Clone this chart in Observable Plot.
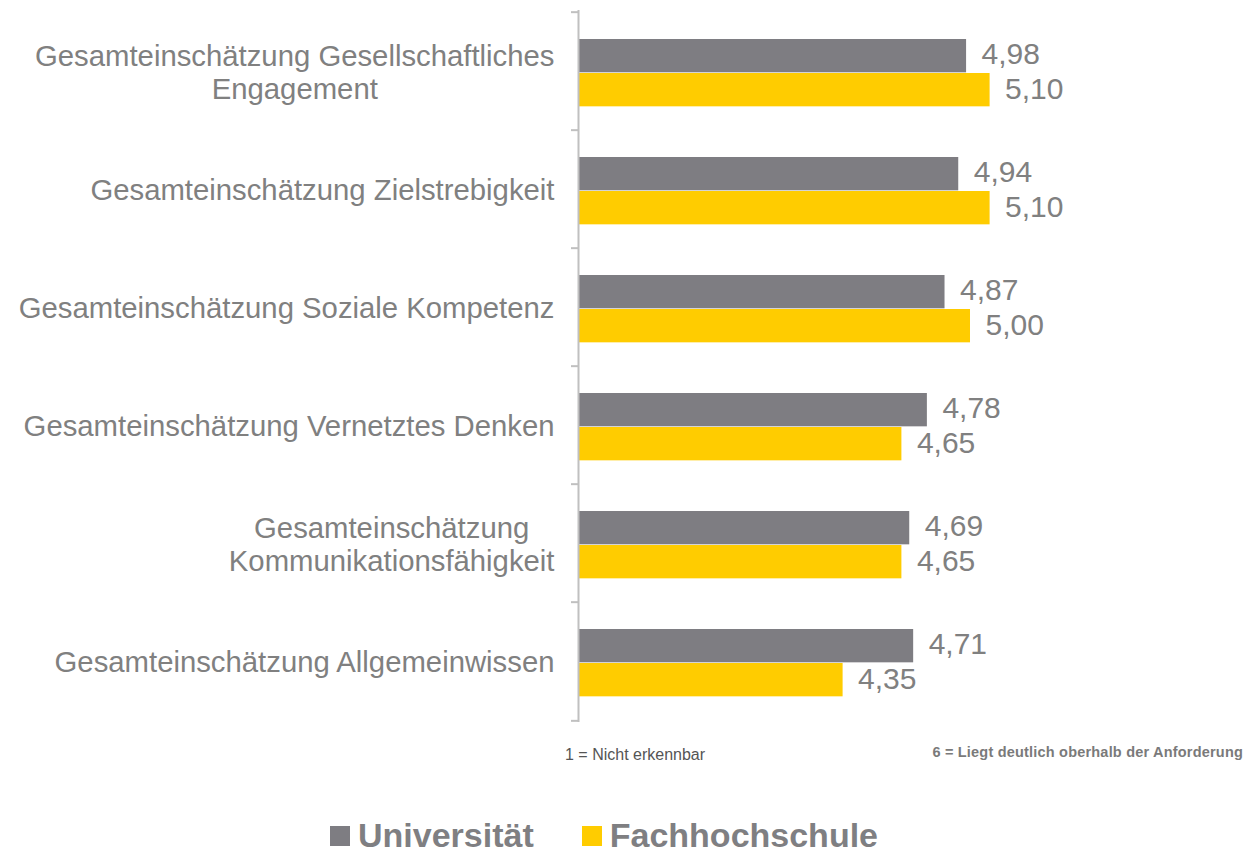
<!DOCTYPE html>
<html><head><meta charset="utf-8">
<script src="https://cdn.jsdelivr.net/npm/d3@7"></script>
<script src="https://cdn.jsdelivr.net/npm/@observablehq/plot@0.6"></script>
<style>
  html,body{margin:0;padding:0;background:#fff;}
  body{font-family:"Liberation Sans",Arial,Helvetica,sans-serif;}
  #chart{position:relative;width:1245px;height:855px;overflow:hidden;}
  #chart svg{position:absolute;left:0;top:0;}
  .note{position:absolute;white-space:nowrap;}
  .note.left{left:565px;top:746px;font-size:16px;color:#555;}
  .note.right{right:2px;top:744px;font-size:14.5px;font-weight:bold;color:#7a7a7a;letter-spacing:0.2px;}
  .legend{position:absolute;left:330px;top:816px;display:flex;align-items:center;font-weight:bold;font-size:34px;color:#7f7f82;white-space:nowrap;}
  .legend .item{display:flex;align-items:center;}
  .legend .sw{width:20px;height:20px;margin-right:8px;display:inline-block;}
</style></head>
<body>
<div id="chart"></div>
<script>
const categories = [
  "Gesamteinschätzung Gesellschaftliches\nEngagement",
  "Gesamteinschätzung Zielstrebigkeit",
  "Gesamteinschätzung Soziale Kompetenz",
  "Gesamteinschätzung Vernetztes Denken",
  "Gesamteinschätzung\nKommunikationsfähigkeit",
  "Gesamteinschätzung Allgemeinwissen"
];
const seriesNames = ["Universität", "Fachhochschule"];
const universitaet = [4.98, 4.94, 4.87, 4.78, 4.69, 4.71];
const fachhochschule = [5.10, 5.10, 5.00, 4.65, 4.65, 4.35];
const seriesColors = ["#7e7d82", "#ffcc00"];
const xDomain = [3, 6];
const scaleNotes = ["1 = Nicht erkennbar", "6 = Liegt deutlich oberhalb der Anforderung"];

const uniData = categories.map((c, i) => ({category: c, value: universitaet[i]}));
const fhData = categories.map((c, i) => ({category: c, value: fachhochschule[i]}));
const fmt = v => d3.format(".2f")(v).replace(".", ",");

const W = 1245, H = 740, mTop = 10, mBottom = 18;
const bw = (H - mTop - mBottom) / categories.length;
const barH = 34, topGap = 27;
const textGray = "#808080";

const plot = Plot.plot({
  width: W, height: H,
  marginLeft: 578, marginRight: 79, marginTop: mTop, marginBottom: mBottom,
  style: {fontFamily: "'Liberation Sans', Arial, Helvetica, sans-serif", background: "#fff"},
  x: {domain: xDomain, axis: null},
  y: {domain: categories, padding: 0, axis: null},
  marks: [
    Plot.barX(uniData, {y: "category", x1: xDomain[0], x2: "value", fill: seriesColors[0],
      insetTop: topGap, insetBottom: bw - topGap - barH}),
    Plot.barX(fhData, {y: "category", x1: xDomain[0], x2: "value", fill: seriesColors[1],
      insetTop: topGap + barH, insetBottom: bw - topGap - 2 * barH}),
    Plot.text(uniData, {y: "category", x: "value", text: d => fmt(d.value), textAnchor: "start",
      dx: 15, dy: -bw / 2 + topGap + barH / 2 - 2, fontSize: 30, fill: textGray}),
    Plot.text(fhData, {y: "category", x: "value", text: d => fmt(d.value), textAnchor: "start",
      dx: 15, dy: -bw / 2 + topGap + 1.5 * barH - 1, fontSize: 30, fill: textGray}),
    Plot.ruleX([xDomain[0]], {stroke: "#c0c0c0", strokeWidth: 2}),
    Plot.axisY({tickSize: 7, tickFormat: () => "", label: null, dy: -bw / 2, stroke: "#c0c0c0", strokeWidth: 2}),
    Plot.axisY([categories[categories.length - 1]], {tickSize: 7, tickFormat: () => "", label: null, dy: bw / 2, stroke: "#c0c0c0", strokeWidth: 2}),
    Plot.axisY({tickSize: 0, tickPadding: 24, label: null, fontSize: 29.3, fill: textGray, lineHeight: 1.13, textAnchor: "end"})
  ]
});

const chart = document.getElementById("chart");
chart.appendChild(plot);

// center multi-line category labels within their block
plot.querySelectorAll("text").forEach(t => {
  const spans = t.querySelectorAll("tspan");
  if (spans.length < 2) return;
  const w = Math.max(...[...spans].map(s => s.getComputedTextLength()));
  spans.forEach(s => { s.setAttribute("text-anchor", "middle"); s.setAttribute("x", -w / 2); });
});

const n1 = document.createElement("div"); n1.className = "note left"; n1.textContent = scaleNotes[0]; chart.appendChild(n1);
const n2 = document.createElement("div"); n2.className = "note right"; n2.textContent = scaleNotes[1]; chart.appendChild(n2);

const legend = document.createElement("div"); legend.className = "legend";
seriesNames.forEach((name, i) => {
  const item = document.createElement("span"); item.className = "item";
  if (i > 0) item.style.marginLeft = "48px";
  const sw = document.createElement("span"); sw.className = "sw"; sw.style.background = seriesColors[i];
  const lab = document.createElement("span"); lab.textContent = name;
  item.appendChild(sw); item.appendChild(lab); legend.appendChild(item);
});
chart.appendChild(legend);
</script>
</body></html>
